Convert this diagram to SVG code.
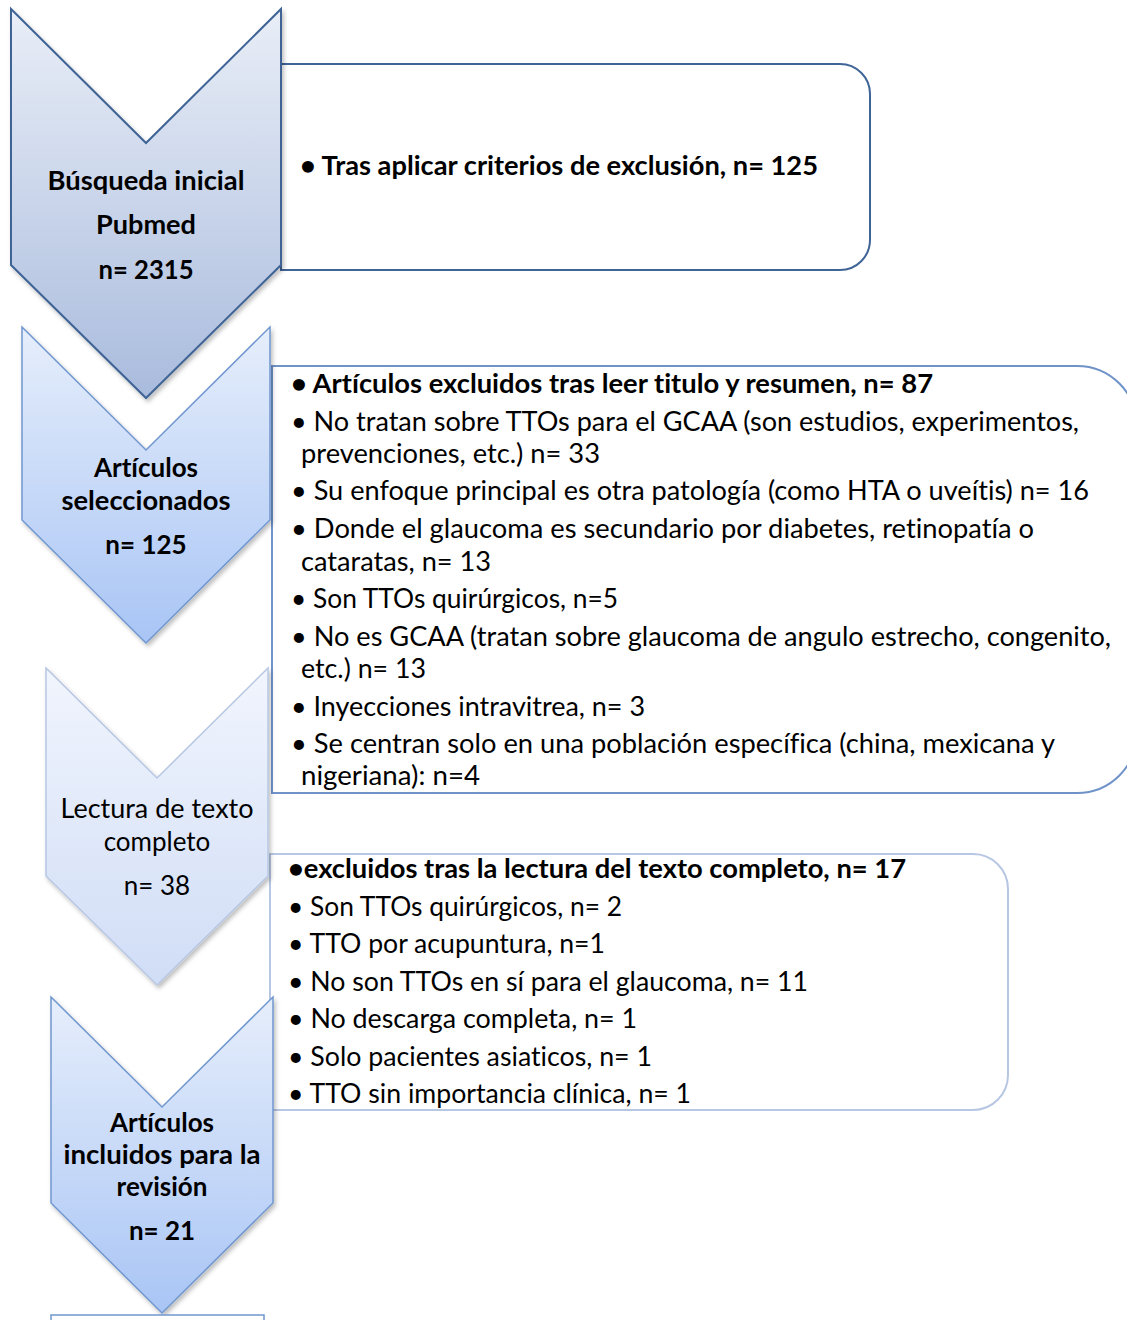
<svg xmlns="http://www.w3.org/2000/svg" width="1127" height="1320" viewBox="0 0 1127 1320">
<style>
text{font-family:Lato,"Liberation Sans",sans-serif;fill:#000;font-size:26px;font-variant-ligatures:none}
.b{font-weight:bold}
.c{text-anchor:middle}
.box{fill:#fff}
</style>
<defs>
<linearGradient id="g1" x1="0" y1="0" x2="0" y2="1"><stop offset="0" stop-color="#e9eef7"/><stop offset="1" stop-color="#a9bbdd"/></linearGradient>
<linearGradient id="g2" x1="0" y1="0" x2="0" y2="1"><stop offset="0" stop-color="#e6eefb"/><stop offset="1" stop-color="#a9c5f5"/></linearGradient>
<linearGradient id="g3" x1="0" y1="0" x2="0" y2="1"><stop offset="0" stop-color="#f1f5fd"/><stop offset="1" stop-color="#d0ddf6"/></linearGradient>
<filter id="sh" x="-10%" y="-10%" width="130%" height="130%"><feDropShadow dx="2" dy="3" stdDeviation="2" flood-color="#000" flood-opacity="0.25"/></filter>
</defs>
<g id="connectors"></g>
<g id="box1">
<path class="box" d="M281,64 H840 A30,30 0 0 1 870,94 V240 A30,30 0 0 1 840,270 H281 Z" stroke="#3f6496" stroke-width="2"/>
<text class="b" x="300" y="175" textLength="518" lengthAdjust="spacingAndGlyphs">• Tras aplicar criterios de exclusión, n= 125</text>
</g>
<g id="box2">
<path class="box" d="M272,366 H1077 A60,60 0 0 1 1137,426 V733 A60,60 0 0 1 1077,793 H272 Z" stroke="#6f93c9" stroke-width="2"/>
<text class="b" x="291" y="393" textLength="642" lengthAdjust="spacingAndGlyphs">• Artículos excluidos tras leer titulo y resumen, n= 87</text>
<text x="291" y="431" textLength="788" lengthAdjust="spacingAndGlyphs">• No tratan sobre TTOs para el GCAA (son estudios, experimentos,</text>
<text x="301" y="463" textLength="299" lengthAdjust="spacingAndGlyphs">prevenciones, etc.) n= 33</text>
<text x="291" y="500" textLength="798" lengthAdjust="spacingAndGlyphs">• Su enfoque principal es otra patología (como HTA o uveítis) n= 16</text>
<text x="291" y="538" textLength="743" lengthAdjust="spacingAndGlyphs">• Donde el glaucoma es secundario por diabetes, retinopatía o</text>
<text x="301" y="571" textLength="190" lengthAdjust="spacingAndGlyphs">cataratas, n= 13</text>
<text x="291" y="608" textLength="327" lengthAdjust="spacingAndGlyphs">• Son TTOs quirúrgicos, n=5</text>
<text x="291" y="646" textLength="820" lengthAdjust="spacingAndGlyphs">• No es GCAA (tratan sobre glaucoma de angulo estrecho, congenito,</text>
<text x="301" y="678" textLength="125" lengthAdjust="spacingAndGlyphs">etc.) n= 13</text>
<text x="291" y="716" textLength="354" lengthAdjust="spacingAndGlyphs">• Inyecciones intravitrea, n= 3</text>
<text x="291" y="753" textLength="764" lengthAdjust="spacingAndGlyphs">• Se centran solo en una población específica (china, mexicana y</text>
<text x="301" y="785" textLength="179" lengthAdjust="spacingAndGlyphs">nigeriana): n=4</text>
</g>
<g id="box3">
<path class="box" d="M270,854 H973 A35,35 0 0 1 1008,889 V1075 A35,35 0 0 1 973,1110 H270 Z" stroke="#b7c6e3" stroke-width="2"/>
<text class="b" x="288" y="878" textLength="618" lengthAdjust="spacingAndGlyphs">•excluidos tras la lectura del texto completo, n= 17</text>
<text x="288" y="916" textLength="334" lengthAdjust="spacingAndGlyphs">• Son TTOs quirúrgicos, n= 2</text>
<text x="288" y="953" textLength="317" lengthAdjust="spacingAndGlyphs">• TTO por acupuntura, n=1</text>
<text x="288" y="991" textLength="520" lengthAdjust="spacingAndGlyphs">• No son TTOs en sí para el glaucoma, n= 11</text>
<text x="288" y="1028" textLength="349" lengthAdjust="spacingAndGlyphs">• No descarga completa, n= 1</text>
<text x="288" y="1066" textLength="364" lengthAdjust="spacingAndGlyphs">• Solo pacientes asiaticos, n= 1</text>
<text x="288" y="1103" textLength="403" lengthAdjust="spacingAndGlyphs">• TTO sin importancia clínica, n= 1</text>
</g>
<g id="step1">
<path d="M11,9 L146,143 L281,9 L281,265 L146,398 L11,265 Z" fill="url(#g1)" stroke="#3f6496" stroke-width="2" filter="url(#sh)"/>
<text class="b c" x="146" y="190" textLength="197" lengthAdjust="spacingAndGlyphs">Búsqueda inicial</text>
<text class="b c" x="146" y="234" textLength="100" lengthAdjust="spacingAndGlyphs">Pubmed</text>
<text class="b c" x="146" y="279" textLength="95" lengthAdjust="spacingAndGlyphs">n= 2315</text>
</g>
<g id="step2">
<path d="M22,327 L146,450 L270,327 L270,520 L146,643 L22,520 Z" fill="url(#g2)" stroke="#7097cf" stroke-width="1.5" filter="url(#sh)"/>
<text class="b c" x="146" y="477">Artículos</text>
<text class="b c" x="146" y="510" textLength="169" lengthAdjust="spacingAndGlyphs">seleccionados</text>
<text class="b c" x="146" y="554">n= 125</text>
</g>
<g id="step3">
<path d="M46,668 L157,778 L268,668 L268,876 L157,985 L46,876 Z" fill="url(#g3)" stroke="#b7c7e3" stroke-width="1.5" filter="url(#sh)"/>
<text class="c" x="157" y="818" textLength="193" lengthAdjust="spacingAndGlyphs">Lectura de texto</text>
<text class="c" x="157" y="851">completo</text>
<text class="c" x="157" y="895">n= 38</text>
</g>
<g id="step4">
<path d="M51,997 L162,1107 L273,997 L273,1203 L162,1313 L51,1203 Z" fill="url(#g2)" stroke="#7097cf" stroke-width="1.5" filter="url(#sh)"/>
<text class="b c" x="162" y="1132">Artículos</text>
<text class="b c" x="162" y="1164" textLength="197" lengthAdjust="spacingAndGlyphs">incluidos para la</text>
<text class="b c" x="162" y="1196">revisión</text>
<text class="b c" x="162" y="1240">n= 21</text>
</g>
<g id="step5">
<rect x="51" y="1315" width="213" height="20" fill="#fff" stroke="#7097cf" stroke-width="1.5"/>
</g>
</svg>
